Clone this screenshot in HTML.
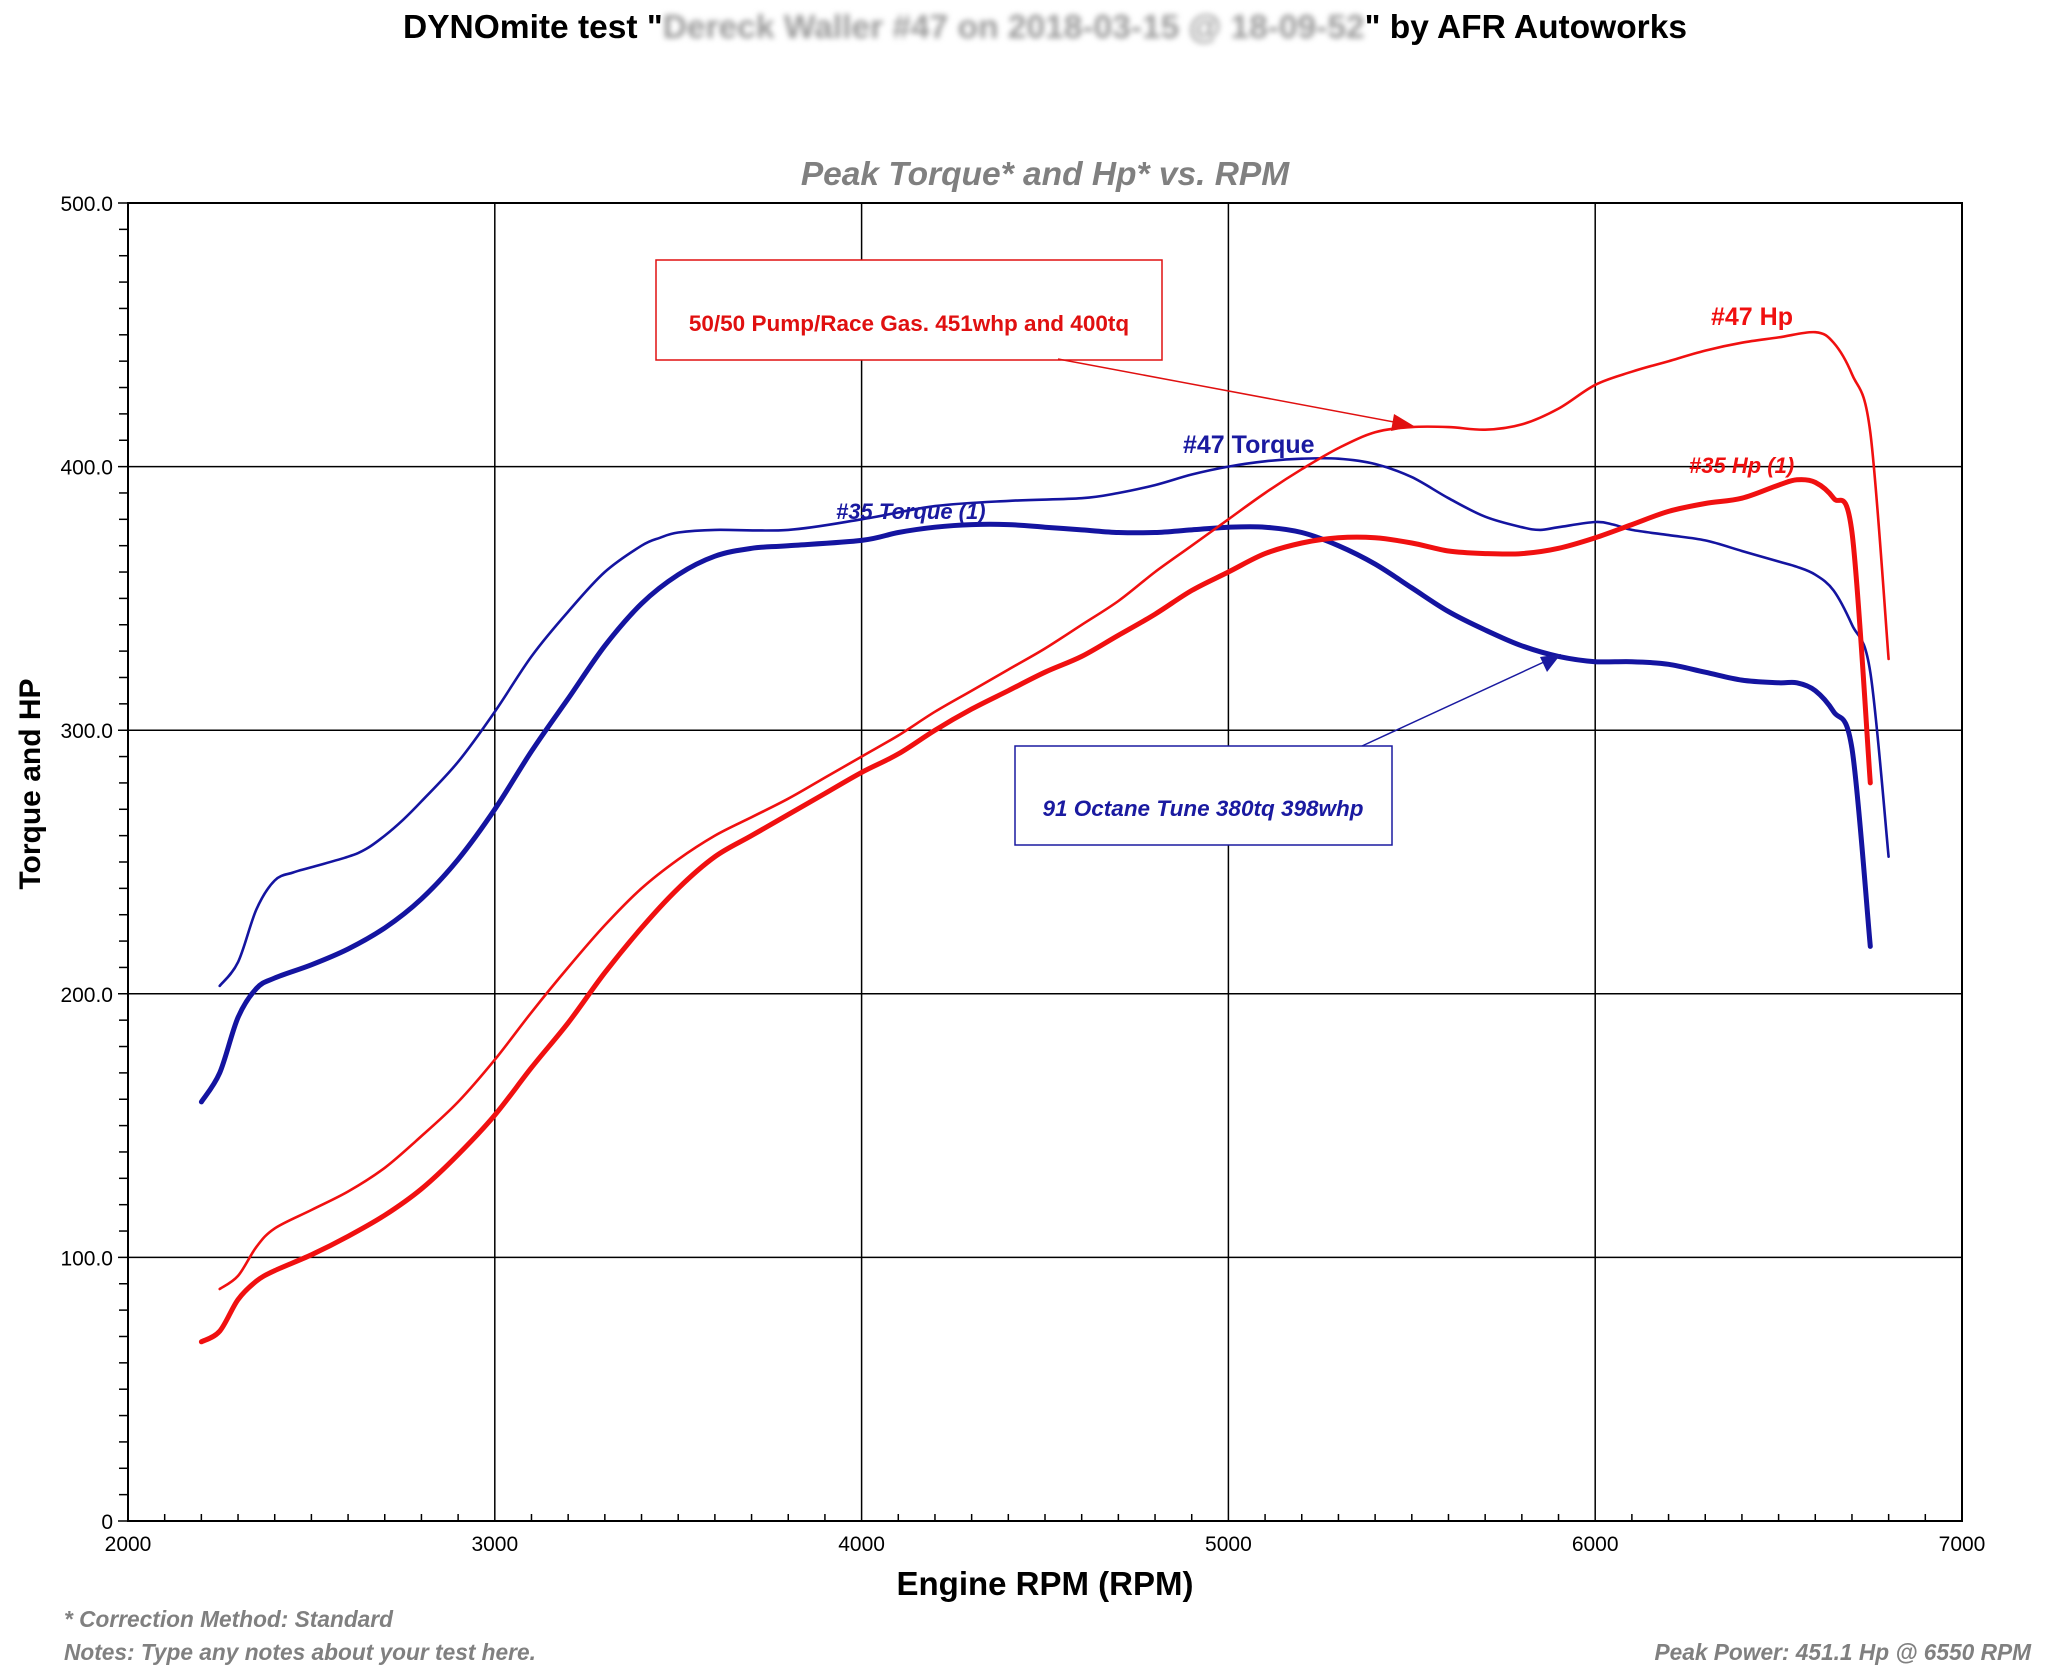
<!DOCTYPE html>
<html><head><meta charset="utf-8"><style>
body{margin:0;background:#fff;}
svg text{font-family:"Liberation Sans",Arial,sans-serif;}
</style></head><body>
<svg id="chart" width="2048" height="1673" viewBox="0 0 2048 1673" xmlns="http://www.w3.org/2000/svg">
<rect width="2048" height="1673" fill="#fff"/>
<g id="grid"></g>
<g id="axes"></g>
<g id="series"></g>
<text x="1045" y="38" text-anchor="middle" font-size="33.5" font-weight="bold">DYNOmite test "<tspan fill="#999" style="filter:blur(3px)">Dereck Waller #47 on 2018-03-15 @ 18-09-52</tspan>" by AFR Autoworks</text>
<text x="1045" y="185" text-anchor="middle" font-size="33.5" font-weight="bold" font-style="italic" fill="#808080">Peak Torque* and Hp* vs. RPM</text>
<text transform="translate(40,784) rotate(-90)" text-anchor="middle" font-size="30" font-weight="bold">Torque and HP</text>
<text x="1045" y="1595" text-anchor="middle" font-size="33" font-weight="bold">Engine RPM (RPM)</text>
<rect x="656" y="260" width="506" height="100" fill="#fff" stroke="#e01010" stroke-width="1.5"/>
<text x="909" y="331" text-anchor="middle" font-size="22.5" font-weight="bold" fill="#e01010">50/50 Pump/Race Gas. 451whp and 400tq</text>
<line x1="1058" y1="359" x2="1410" y2="425" stroke="#e01010" stroke-width="1.5"/>
<polygon points="1414,426 1394,414 1391,431" fill="#e01010"/>
<rect x="1015" y="746" width="377" height="99" fill="#fff" stroke="#1a1aa0" stroke-width="1.5"/>
<text x="1203" y="816" text-anchor="middle" font-size="22.5" font-weight="bold" font-style="italic" fill="#1a1aa0">91 Octane Tune 380tq 398whp</text>
<line x1="1362" y1="746" x2="1557" y2="656" stroke="#1a1aa0" stroke-width="1.5"/>
<polygon points="1561,654 1540,657 1547,672" fill="#1a1aa0"/>
<text x="1183" y="453" font-size="25" font-weight="bold" fill="#1a1aa0">#47 Torque</text>
<text x="836" y="519" font-size="22" font-weight="bold" font-style="italic" fill="#1a1aa0">#35 Torque (1)</text>
<text x="1711" y="325" font-size="25" font-weight="bold" fill="#f01010">#47 Hp</text>
<text x="1689" y="473" font-size="22" font-weight="bold" font-style="italic" fill="#f01010">#35 Hp (1)</text>
<text x="64" y="1627" font-size="22.7" font-weight="bold" font-style="italic" fill="#808080">* Correction Method: Standard</text>
<text x="64" y="1660" font-size="22.7" font-weight="bold" font-style="italic" fill="#808080">Notes: Type any notes about your test here.</text>
<text x="2031" y="1660" text-anchor="end" font-size="22.7" font-weight="bold" font-style="italic" fill="#808080">Peak Power: 451.1 Hp @ 6550 RPM</text>
</svg>
<script>
const xTicks=[2000,3000,4000,5000,6000,7000];
const yTicks=[0,100,200,300,400,500];
const yTickLabels=["0","100.0","200.0","300.0","400.0","500.0"];
const rpm47T=[2250,2300,2350,2400,2450,2500,2600,2650,2700,2750,2800,2900,3000,3100,3200,3300,3400,3450,3500,3600,3800,4000,4200,4400,4600,4700,4800,4900,5000,5100,5200,5300,5400,5500,5600,5700,5800,5850,5900,6000,6050,6100,6200,6300,6400,6500,6550,6600,6650,6700,6750,6800];
const torque47=[203,212,232,243,246,248,252,255,260,266,273,288,307,328,345,360,370,373,375,376,376,380,385,387,388,390,393,397,400,402,403,403,401,396,388,381,377,376,377,379,378,376,374,372,368,364,362,359,353,340,322,252];
const rpm35T=[2200,2250,2300,2350,2400,2500,2600,2700,2800,2900,3000,3100,3200,3300,3400,3500,3600,3700,3800,4000,4100,4200,4300,4400,4500,4600,4700,4800,4900,5000,5100,5200,5300,5400,5500,5600,5700,5800,5900,6000,6100,6200,6300,6400,6500,6550,6600,6650,6700,6750];
const torque35=[159,170,191,202,206,211,217,225,236,251,270,292,312,332,348,359,366,369,370,372,375,377,378,378,377,376,375,375,376,377,377,375,370,363,354,345,338,332,328,326,326,325,322,319,318,318,315,307,293,218];
const rpm47H=[2250,2300,2350,2400,2500,2600,2700,2800,2900,3000,3100,3200,3300,3400,3500,3600,3700,3800,3900,4000,4100,4200,4300,4400,4500,4600,4700,4800,4900,5000,5100,5200,5300,5400,5500,5600,5700,5800,5900,6000,6100,6200,6300,6400,6500,6600,6650,6700,6750,6800];
const hp47=[88,93,104,111,118,125,134,146,159,175,193,210,226,240,251,260,267,274,282,290,298,307,315,323,331,340,349,360,370,380,390,399,407,413,415,415,414,416,422,431,436,440,444,447,449,451,447,435,413,327];
const rpm35H=[2200,2250,2300,2350,2400,2500,2600,2700,2800,2900,3000,3100,3200,3300,3400,3500,3600,3700,3800,3900,4000,4100,4200,4300,4400,4500,4600,4700,4800,4900,5000,5100,5200,5300,5400,5500,5600,5700,5800,5900,6000,6100,6200,6300,6400,6500,6550,6600,6650,6700,6750];
const hp35=[68,72,84,91,95,101,108,116,126,139,154,172,189,208,225,240,252,260,268,276,284,291,300,308,315,322,328,336,344,353,360,367,371,373,373,371,368,367,367,369,373,378,383,386,388,393,395,394,388,375,280];

const L=128,R=1962,T=203,B=1521;
const xs=v=>L+(v-2000)/5000*(R-L);
const ys=v=>B-v/500*(B-T);
const NS="http://www.w3.org/2000/svg";
function mk(tag,parent,attrs){const e=document.createElementNS(NS,tag);for(const k in attrs)e.setAttribute(k,attrs[k]);parent.appendChild(e);return e;}
const grid=document.getElementById('grid'),axes=document.getElementById('axes'),series=document.getElementById('series');
xTicks.forEach(v=>{
  const g=mk('line',grid,{x1:xs(v),x2:xs(v),y1:T,y2:B,stroke:'#000','stroke-width':1.5});
  
  
  const t=mk('text',axes,{x:xs(v),y:1551,'text-anchor':'middle','font-size':21});
  t.textContent=v;
  
  
});
yTicks.forEach((v,i)=>{
  const g=mk('line',grid,{x1:L-10,x2:R,y1:ys(v),y2:ys(v),stroke:'#000','stroke-width':1.5});
  
  
  const t=mk('text',axes,{x:113,y:ys(v)+8,'text-anchor':'end','font-size':21});
  t.textContent=yTickLabels[i];
  
  
});
for(let v=2100;v<7000;v+=100){ if(v%1000===0)continue;
  const m=mk('line',axes,{x1:xs(v),x2:xs(v),y1:B,y2:B-7,stroke:'#000','stroke-width':1.5});
  
  
}
for(let v=10;v<500;v+=10){ if(v%100===0)continue;
  const m=mk('line',axes,{x1:L-9,x2:L,y1:ys(v),y2:ys(v),stroke:'#000','stroke-width':1.5});
  
  
}
const frame=mk('rect',axes,{x:L,y:T,width:R-L,height:B-T,fill:'none',stroke:'#000','stroke-width':2});


function line(xsArr,ysArr,color,w,name){
  const P=xsArr.map((x,i)=>[xs(x),ys(ysArr[i])]);
  let d='M'+P[0][0].toFixed(1)+' '+P[0][1].toFixed(1);
  for(let i=0;i<P.length-1;i++){
    const p0=P[Math.max(0,i-1)],p1=P[i],p2=P[i+1],p3=P[Math.min(P.length-1,i+2)];
    const c1=[p1[0]+(p2[0]-p0[0])/6,p1[1]+(p2[1]-p0[1])/6];
    const c2=[p2[0]-(p3[0]-p1[0])/6,p2[1]-(p3[1]-p1[1])/6];
    d+=' C'+c1[0].toFixed(1)+' '+c1[1].toFixed(1)+' '+c2[0].toFixed(1)+' '+c2[1].toFixed(1)+' '+p2[0].toFixed(1)+' '+p2[1].toFixed(1);
  }
  const p=mk('path',series,{d:d,fill:'none',stroke:color,'stroke-width':w,'stroke-linejoin':'round','stroke-linecap':'round'});
  
  
}
line(rpm47T,torque47,'#1414a0',2.6,'series-47-torque');
line(rpm35T,torque35,'#1414a0',5,'series-35-torque');
line(rpm47H,hp47,'#f01010',2.6,'series-47-hp');
line(rpm35H,hp35,'#f01010',5,'series-35-hp');
</script>
</body></html>
